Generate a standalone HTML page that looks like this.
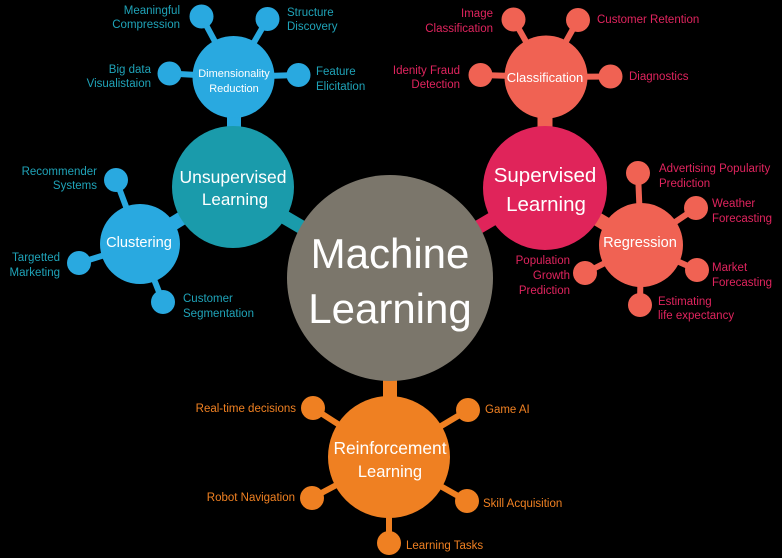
<!DOCTYPE html>
<html>
<head>
<meta charset="utf-8">
<style>
html,body{margin:0;padding:0;background:#000;}
svg{display:block;}
text{font-family:"Liberation Sans",sans-serif;}
</style>
</head>
<body>
<svg width="782" height="558" viewBox="0 0 782 558" xmlns="http://www.w3.org/2000/svg">
<rect width="782" height="558" fill="#000"/>

<!-- ===== main connectors ===== -->
<g stroke-linecap="butt">
  <line x1="233" y1="187" x2="320" y2="238" stroke="#1a9bab" stroke-width="14"/>
  <line x1="545" y1="188" x2="460" y2="238" stroke="#e0245a" stroke-width="14"/>
  <line x1="390" y1="370" x2="390" y2="405" stroke="#ef8022" stroke-width="14"/>
  <line x1="234" y1="77" x2="234" y2="140" stroke="#29a9e0" stroke-width="14"/>
  <line x1="140" y1="244" x2="200" y2="207" stroke="#29a9e0" stroke-width="14"/>
  <line x1="545" y1="77" x2="545" y2="140" stroke="#f06253" stroke-width="15"/>
  <line x1="545" y1="188" x2="641" y2="245" stroke="#f06253" stroke-width="14"/>
</g>

<!-- ===== Dimensionality Reduction leaves ===== -->
<g stroke="#29a9e0" stroke-width="6">
  <line x1="234" y1="77" x2="201.5" y2="16.5"/>
  <line x1="234" y1="77" x2="267.5" y2="19"/>
  <line x1="234" y1="77" x2="169.5" y2="73.5"/>
  <line x1="234" y1="77" x2="298.5" y2="75"/>
</g>
<g fill="#29a9e0">
  <circle cx="201.5" cy="16.5" r="12"/>
  <circle cx="267.5" cy="19" r="12"/>
  <circle cx="169.5" cy="73.5" r="12"/>
  <circle cx="298.5" cy="75" r="12"/>
  <circle cx="233.5" cy="77" r="41"/>
</g>

<!-- ===== Clustering leaves ===== -->
<g stroke="#29a9e0" stroke-width="6">
  <line x1="140" y1="244" x2="116" y2="180"/>
  <line x1="140" y1="244" x2="79" y2="263"/>
  <line x1="140" y1="244" x2="163" y2="302"/>
</g>
<g fill="#29a9e0">
  <circle cx="116" cy="180" r="12"/>
  <circle cx="79" cy="263" r="12"/>
  <circle cx="163" cy="302" r="12"/>
  <circle cx="140" cy="244" r="40"/>
</g>

<!-- Unsupervised -->
<circle cx="233" cy="187" r="61" fill="#1a9bab"/>

<!-- ===== Classification leaves ===== -->
<g stroke="#f06253" stroke-width="6">
  <line x1="546" y1="77" x2="513.5" y2="19.5"/>
  <line x1="546" y1="77" x2="578" y2="20"/>
  <line x1="546" y1="77" x2="480.5" y2="75"/>
  <line x1="546" y1="77" x2="610.5" y2="76.5"/>
</g>
<g fill="#f06253">
  <circle cx="513.5" cy="19.5" r="12"/>
  <circle cx="578" cy="20" r="12"/>
  <circle cx="480.5" cy="75" r="12"/>
  <circle cx="610.5" cy="76.5" r="12"/>
  <circle cx="546" cy="77" r="41.5"/>
</g>

<!-- ===== Regression leaves ===== -->
<g stroke="#f06253" stroke-width="6">
  <line x1="641" y1="245" x2="638" y2="173"/>
  <line x1="641" y1="245" x2="696" y2="208"/>
  <line x1="641" y1="245" x2="697" y2="270"/>
  <line x1="641" y1="245" x2="640" y2="305"/>
  <line x1="641" y1="245" x2="585" y2="273"/>
</g>
<g fill="#f06253">
  <circle cx="638" cy="173" r="12"/>
  <circle cx="696" cy="208" r="12"/>
  <circle cx="697" cy="270" r="12"/>
  <circle cx="640" cy="305" r="12"/>
  <circle cx="585" cy="273" r="12"/>
</g>

<!-- Supervised -->
<circle cx="545" cy="188" r="62" fill="#e0245a"/>
<circle cx="641" cy="245" r="42" fill="#f06253"/>

<!-- ===== Reinforcement leaves ===== -->
<g stroke="#ef8022" stroke-width="6">
  <line x1="389" y1="457" x2="313" y2="408"/>
  <line x1="389" y1="457" x2="468" y2="410"/>
  <line x1="389" y1="457" x2="312" y2="498"/>
  <line x1="389" y1="457" x2="467" y2="501"/>
  <line x1="389" y1="457" x2="389" y2="543"/>
</g>
<g fill="#ef8022">
  <circle cx="313" cy="408" r="12"/>
  <circle cx="468" cy="410" r="12"/>
  <circle cx="312" cy="498" r="12"/>
  <circle cx="467" cy="501" r="12"/>
  <circle cx="389" cy="543" r="12"/>
  <circle cx="389" cy="457" r="61"/>
</g>

<!-- Main -->
<circle cx="390" cy="278" r="103" fill="#7b766b"/>

<!-- ===== Center texts ===== -->
<g fill="#fff" text-anchor="middle">
  <text x="390" y="268" font-size="42">Machine</text>
  <text x="390" y="323" font-size="42">Learning</text>
  <text x="233" y="183" font-size="17.5">Unsupervised</text>
  <text x="235" y="205" font-size="17">Learning</text>
  <text x="545" y="182" font-size="20.5">Supervised</text>
  <text x="546" y="211" font-size="20.5">Learning</text>
  <text x="390" y="454" font-size="17.4">Reinforcement</text>
  <text x="390" y="477" font-size="16.5">Learning</text>
  <text x="234" y="77" font-size="11">Dimensionality</text>
  <text x="234" y="92" font-size="11">Reduction</text>
  <text x="139" y="247" font-size="14.6">Clustering</text>
  <text x="545" y="82" font-size="13">Classification</text>
  <text x="640" y="247" font-size="14.6">Regression</text>
</g>

<!-- ===== Teal labels ===== -->
<g fill="#1fa3b8" font-size="11.5">
  <text x="180" y="14" text-anchor="end">Meaningful</text>
  <text x="180" y="28" text-anchor="end">Compression</text>
  <text x="287" y="16">Structure</text>
  <text x="287" y="30">Discovery</text>
  <text x="151" y="73" text-anchor="end">Big data</text>
  <text x="151" y="87" text-anchor="end">Visualistaion</text>
  <text x="316" y="75">Feature</text>
  <text x="316" y="90">Elicitation</text>
  <text x="97" y="175" text-anchor="end">Recommender</text>
  <text x="97" y="189" text-anchor="end">Systems</text>
  <text x="60" y="261" text-anchor="end">Targetted</text>
  <text x="60" y="276" text-anchor="end">Marketing</text>
  <text x="183" y="302">Customer</text>
  <text x="183" y="317">Segmentation</text>
</g>

<!-- ===== Red labels ===== -->
<g fill="#e0245e" font-size="11.5">
  <text x="493" y="17" text-anchor="end">Image</text>
  <text x="493" y="32" text-anchor="end">Classification</text>
  <text x="597" y="23">Customer Retention</text>
  <text x="460" y="74" text-anchor="end">Idenity Fraud</text>
  <text x="460" y="88" text-anchor="end">Detection</text>
  <text x="629" y="80">Diagnostics</text>
  <text x="659" y="172">Advertising Popularity</text>
  <text x="659" y="187">Prediction</text>
  <text x="712" y="207">Weather</text>
  <text x="712" y="222">Forecasting</text>
  <text x="712" y="271">Market</text>
  <text x="712" y="286">Forecasting</text>
  <text x="658" y="305">Estimating</text>
  <text x="658" y="319">life expectancy</text>
  <text x="570" y="264" text-anchor="end">Population</text>
  <text x="570" y="279" text-anchor="end">Growth</text>
  <text x="570" y="294" text-anchor="end">Prediction</text>
</g>

<!-- ===== Orange labels ===== -->
<g fill="#ef8022" font-size="11.5">
  <text x="296" y="412" text-anchor="end">Real-time decisions</text>
  <text x="485" y="413">Game AI</text>
  <text x="295" y="501" text-anchor="end">Robot Navigation</text>
  <text x="483" y="507">Skill Acquisition</text>
  <text x="406" y="549">Learning Tasks</text>
</g>
</svg>
</body>
</html>
